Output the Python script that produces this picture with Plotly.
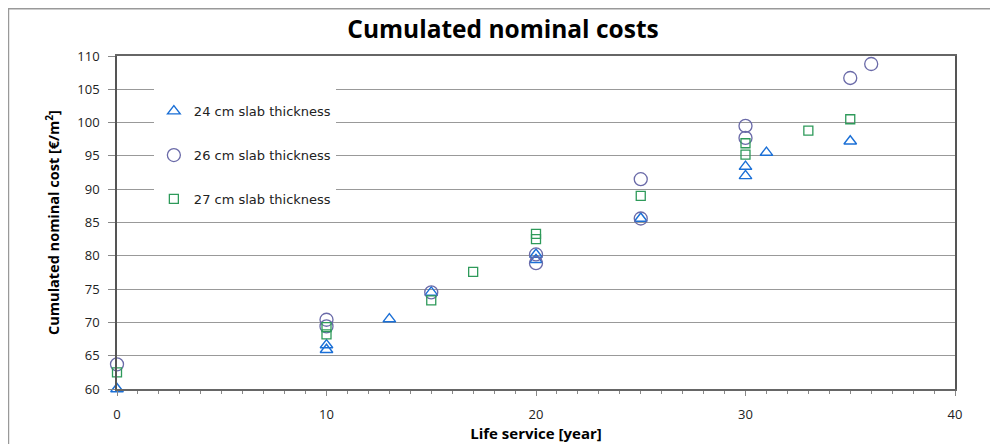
import plotly.graph_objects as go

# Data
x_24 = [0, 10, 10, 13, 15, 20, 20, 25, 30, 30, 31, 35]
y_24 = [60.0, 66.6, 65.9, 70.5, 74.5, 80.2, 79.4, 85.6, 93.4, 92.0, 95.5, 97.2]

x_26 = [0, 10, 10, 15, 20, 20, 25, 25, 30, 30, 35, 36]
y_26 = [63.7, 70.4, 69.4, 74.5, 80.2, 78.9, 91.5, 85.6, 99.5, 97.7, 106.7, 108.8]

x_27 = [0, 10, 10, 15, 17, 20, 20, 25, 30, 30, 33, 35]
y_27 = [62.5, 69.3, 68.2, 73.3, 77.6, 83.3, 82.5, 89.0, 96.9, 95.2, 98.8, 100.5]

series_names = ["24 cm slab thickness", "26 cm slab thickness", "27 cm slab thickness"]
x_ticks = [0, 10, 20, 30, 40]
y_ticks = [60, 65, 70, 75, 80, 85, 90, 95, 100, 105, 110]

FONT = "Open Sans"

fig = go.Figure()
fig.add_trace(go.Scatter(
    x=x_24, y=y_24, mode="markers", name=series_names[0], legendgroup="a",
    marker=dict(symbol="triangle-up-open", size=11, color="#1a6fd6", line=dict(width=1.4)),
    cliponaxis=False))
fig.add_trace(go.Scatter(
    x=x_26, y=y_26, mode="markers", name=series_names[1], legendgroup="b",
    marker=dict(symbol="circle-open", size=13, color="#6a6aa8", line=dict(width=1.3)),
    cliponaxis=False))
fig.add_trace(go.Scatter(
    x=x_27, y=y_27, mode="markers", name=series_names[2], legendgroup="c",
    marker=dict(symbol="square-open", size=9, color="#2e9a5a", line=dict(width=1.3)),
    cliponaxis=False))

fig.update_layout(
    width=990, height=436,
    margin=dict(l=109, r=43, t=48, b=55, autoexpand=False),
    paper_bgcolor="white", plot_bgcolor="white",
    title=dict(text="<b>Cumulated nominal costs</b>", x=0.5, xanchor="center",
               y=0.952, yanchor="middle",
               font=dict(family=FONT, size=24.5, color="#000")),
    font=dict(family=FONT, color="#222"),
    showlegend=True,
    legend=dict(x=0.044, y=0.934, xanchor="left", yanchor="top",
                bgcolor="white", borderwidth=0,
                traceorder="grouped", tracegroupgap=24,
                title=dict(text=" ", font=dict(size=14)),
                font=dict(family="DejaVu Sans", size=13, color="#222")),
    xaxis=dict(range=[0, 40], tickvals=x_ticks, ticks="outside", ticklen=5,
               tickcolor="#888", showgrid=False, zeroline=False, automargin=False,
               showline=True, linecolor="#666", linewidth=1.5, mirror=True,
               ticklabelstandoff=8,
               tickfont=dict(family=FONT, size=13, color="#222"),
               minor=dict(dtick=1, ticks="outside", ticklen=3, tickcolor="#888", showgrid=False),
               title=dict(text="<b>Life service [year]</b>", standoff=3,
                          font=dict(family=FONT, size=15, color="#000"))),
    yaxis=dict(range=[60, 110], tickvals=y_ticks, ticks="outside", ticklen=7,
               tickcolor="#888", showgrid=True, gridcolor="#999", gridwidth=1,
               zeroline=False, showline=True, linecolor="#555", linewidth=1.5, mirror=True,
               ticklabelstandoff=6, automargin=False,
               tickfont=dict(family=FONT, size=13, color="#222"),
               title=dict(text="<b>Cumulated nominal cost [€/m<sup>2</sup>]</b>", standoff=14,
                          font=dict(family=FONT, size=14.5, color="#000"))),
    shapes=[dict(type="rect", xref="paper", yref="paper",
                 x0=-0.1295, x1=1.2, y0=-0.3, y1=1.142,
                 line=dict(color="#999", width=1.5), fillcolor="rgba(0,0,0,0)",
                 layer="below")],
)

fig.write_html("out.html")
